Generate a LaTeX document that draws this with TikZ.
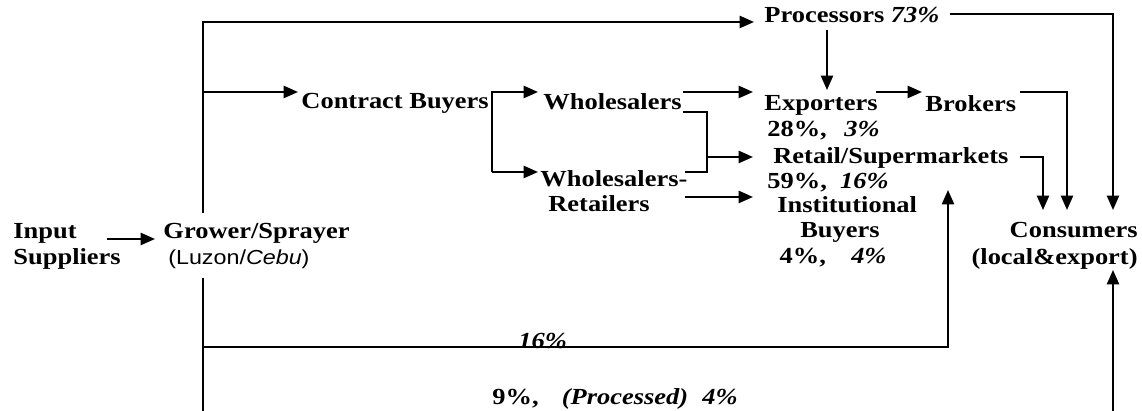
\documentclass[tikz,border=0pt]{standalone}
\usepackage{fontspec}
\setmainfont{Liberation Serif}[FakeStretch=1.15]
\setsansfont{Liberation Sans}[FakeStretch=1.15]
\usetikzlibrary{arrows.meta,calc}
\tikzset{
  lbl/.style={inner sep=0pt, anchor=north west, font=\fontsize{10.44}{11.6}\selectfont\bfseries},
  ln/.style={line width=0.9pt},
  arr/.style={ln, -{Triangle[length=6.5pt,width=5.5pt]}}
}
\begin{document}
\begin{tikzpicture}[x=0.454pt, y=-0.454pt]
\fill[white] (0,0) rectangle (1142,411);
\useasboundingbox (0,0) rectangle (1142,411);
% nodes
\node[lbl, align=left] (inp) at (13,223) {Input\\Suppliers};
\node[lbl, align=left] (grw) at (163,223) {Grower/Sprayer\\\hspace*{2.2pt}{\sffamily\mdseries\fontsize{9.2}{11}\selectfont(Luzon/\textit{Cebu})}};
\node[lbl] (cb) at (301,93) {Contract Buyers};
\node[lbl] (wh) at (543,93) {Wholesalers};
\node[lbl, align=left] (whr) at (540,170) {Wholesalers-\\\hspace*{3.6pt}Retailers};
\node[lbl] (proc) at (764,7) {Processors \textit{73\%}};
\node[lbl, align=left] (exp) at (764,95) {Exporters\\\hspace*{1.3pt}28\%,\hspace{8pt}\textit{3\%}};
\node[lbl] (brk) at (925,95) {Brokers};
\node[lbl, align=left] (ret) at (767,147) {\hspace*{2.7pt}Retail/Supermarkets\\59\%,\hspace{6pt}\textit{16\%}};
\node[lbl, align=left] (inst) at (777,196) {Institutional\\\hspace*{10.4pt}Buyers\\\hspace*{1pt}4\%,\hspace{11.5pt}\textit{4\%}};
\node[lbl, anchor=north east, align=right] (con) at (1138,222) {Consumers\\[0.6pt](local\&export)};
\node[lbl] (p16) at (518,333) {\textit{16\%}};
\node[lbl] (p9) at (492,388) {9\%,\hspace{10.5pt}\textit{(Processed)\hspace{6.5pt}4\%}};
% coordinates
\coordinate (j1) at (203,92);
\coordinate (j2) at (203,347);
\coordinate (gb) at (203,411);
\coordinate (t16) at (948,190);
\coordinate (jx) at (707,157);
\coordinate (cbot) at (1113,411);
% connectors
\draw[arr] ($(inp.north west)+(94,16)$) -- ($(grw.north west)+(-8,16)$);
\draw[arr] ($(grw.north west)+(40,-10)$) |- ($(proc.north west)+(-10,15)$);
\draw[arr] (j1) -- ($(cb.north west)+(-3,-1)$);
\draw[ln] ($(grw.north west)+(40,55)$) -- (gb);
\draw[arr] (j2) -| (t16);
\coordinate (b1) at ($(cb.north east)+(3,-1)$);
\coordinate (b2) at ($(b1)+(0,80)$);
\draw[arr] (b2) -- (b1) -- ($(wh.north west)+(-5,-1)$);
\draw[arr] (b2) -- ($(whr.north west)+(-2,2)$);
\draw[arr] ($(wh.north east)+(1,-1)$) -- ($(exp.north west)+(-11,-3)$);
\coordinate (wa) at ($(wh.north east)+(1,19)$);
\coordinate (wb) at ($(whr.north east)+(-3,2)$);
\draw[ln] (wa) -- (wa -| jx) -- (wb -| jx) -- (wb);
\draw[arr] (jx) -- ($(ret.north west)+(-14,10)$);
\draw[arr] ($(whr.north east)+(-3,27)$) -- ($(inst.north west)+(-24,1)$);
\draw[arr] ($(proc.north west)+(63,23)$) -- ($(exp.north west)+(63,-5)$);
\draw[arr] ($(exp.north east)+(-4,-3)$) -- ($(brk.north west)+(-3,-3)$);
\draw[arr] ($(brk.north east)+(4,-3)$) -| ($(con.north east)+(-71,-12)$);
\draw[arr] ($(ret.north east)+(11,10)$) -| ($(con.north east)+(-95,-12)$);
\draw[arr] ($(proc.north east)+(10,7)$) -| ($(con.north east)+(-25,-12)$);
\draw[arr] (cbot) -- ($(con.north east)+(-25,48)$);
\end{tikzpicture}
\end{document}
